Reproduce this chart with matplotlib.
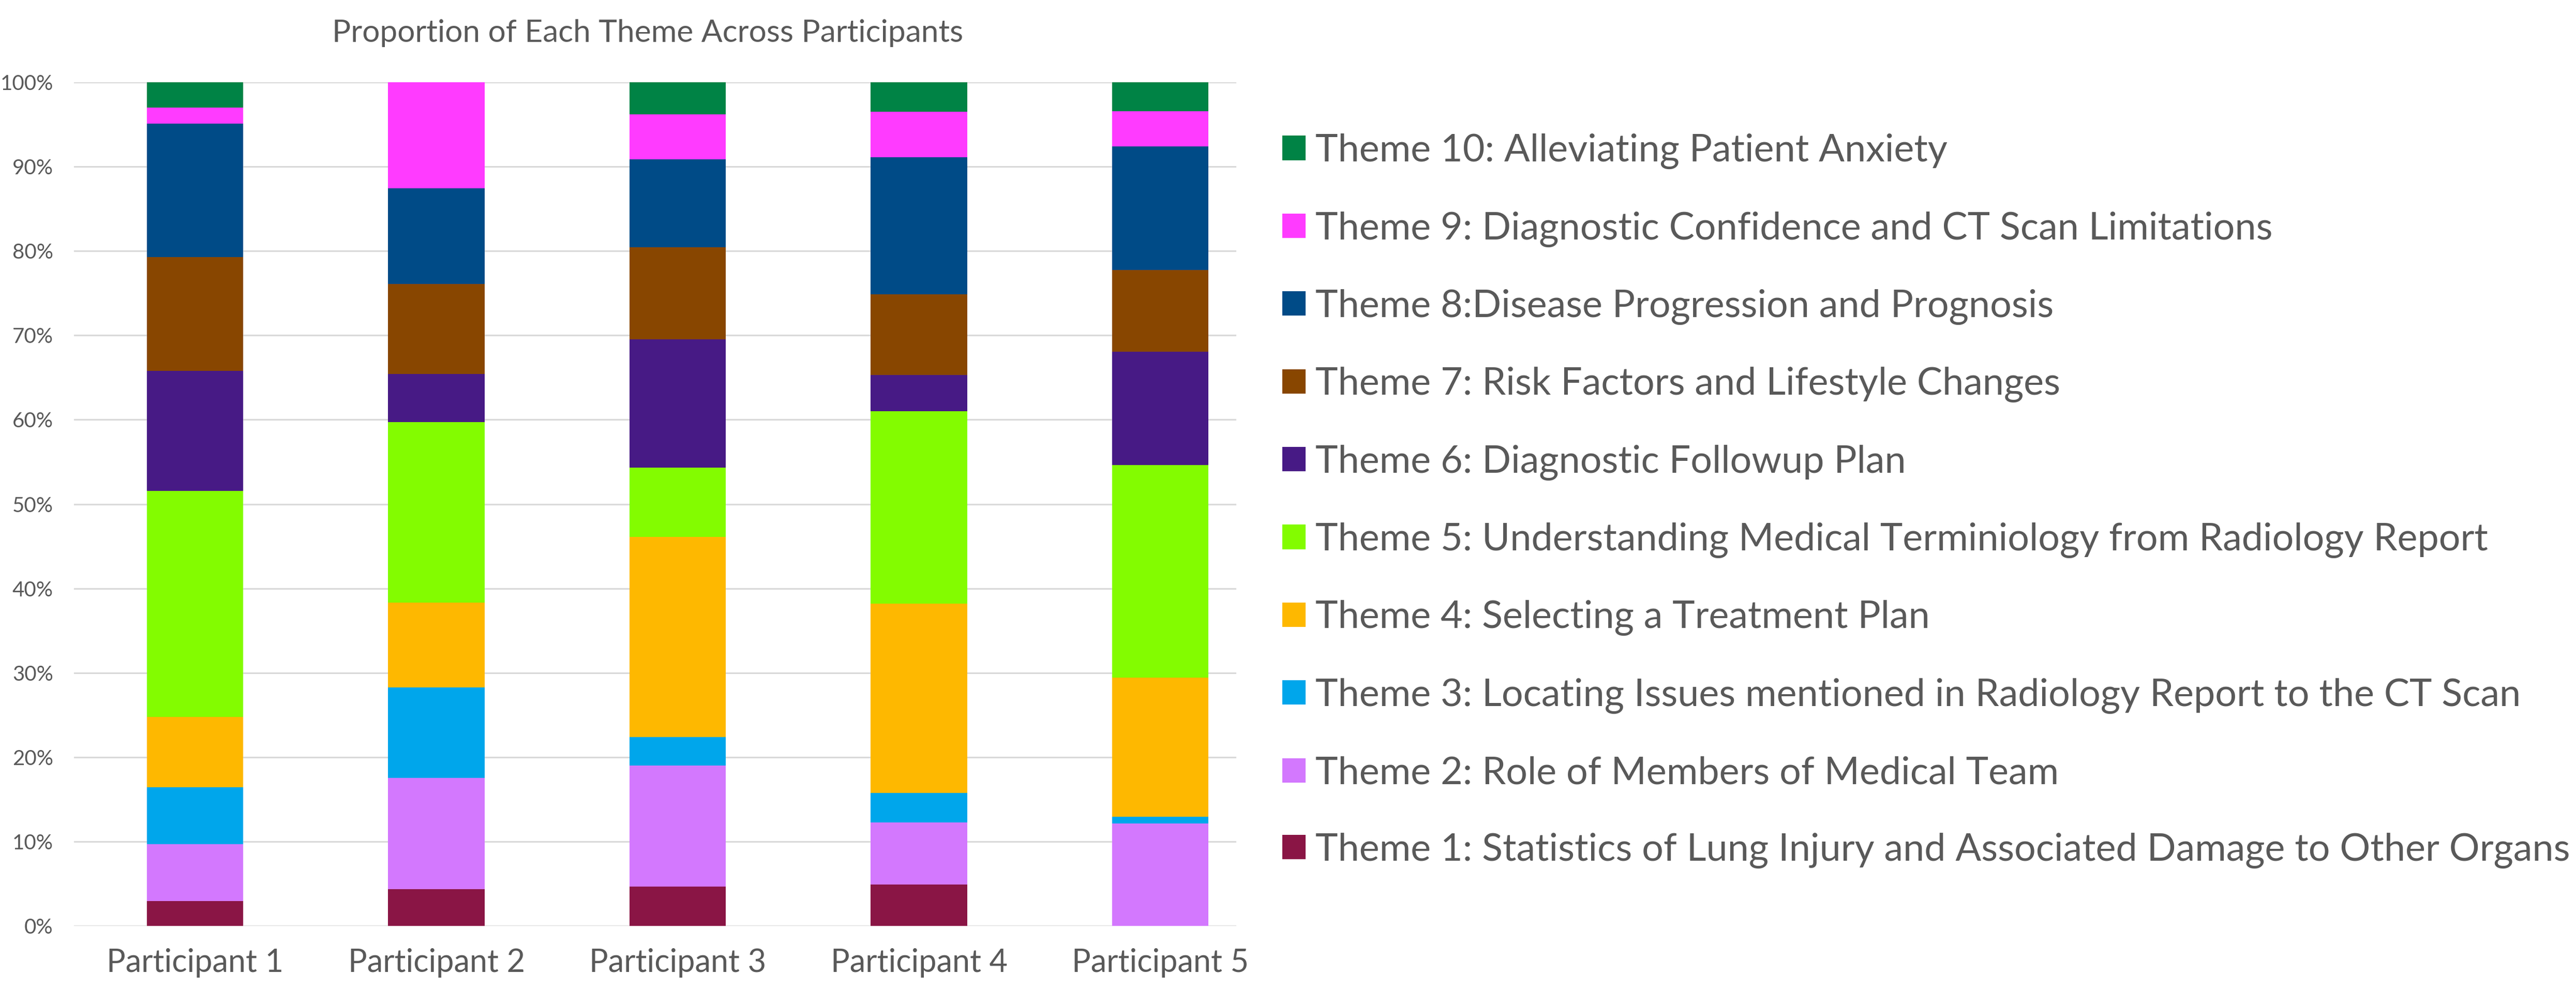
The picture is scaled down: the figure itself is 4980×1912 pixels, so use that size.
import numpy as np
import matplotlib
matplotlib.use('Agg')
import matplotlib.pyplot as plt
from matplotlib.ticker import PercentFormatter

plt.rcParams['font.family'] = ['Lato', 'DejaVu Sans']

participants = ['Participant 1', 'Participant 2', 'Participant 3', 'Participant 4', 'Participant 5']

themes = [
    'Theme 1: Statistics of Lung Injury and Associated Damage to Other Organs',
    'Theme 2: Role of Members of Medical Team',
    'Theme 3: Locating Issues mentioned in Radiology Report to the CT Scan',
    'Theme 4: Selecting a Treatment Plan',
    'Theme 5: Understanding Medical Terminiology from Radiology Report',
    'Theme 6: Diagnostic Followup Plan',
    'Theme 7: Risk Factors and Lifestyle Changes',
    'Theme 8:Disease Progression and Prognosis',
    'Theme 9: Diagnostic Confidence and CT Scan Limitations',
    'Theme 10: Alleviating Patient Anxiety',
]

# proportions (%), one list per theme, P1..P5
theme1 = [2.94, 4.37, 4.67, 4.93, 0.00]
theme2 = [6.77, 13.18, 14.31, 7.34, 12.12]
theme3 = [6.74, 10.73, 3.38, 3.47, 0.83]
theme4 = [8.29, 10.05, 23.76, 22.44, 16.46]
theme5 = [26.81, 21.41, 8.21, 22.83, 25.23]
theme6 = [14.24, 5.66, 15.22, 4.29, 13.43]
theme7 = [13.50, 10.69, 10.90, 9.59, 9.67]
theme8 = [15.82, 11.32, 10.44, 16.21, 14.63]
theme9 = [1.87, 12.59, 5.28, 5.42, 4.22]
theme10 = [3.02, 0.00, 3.83, 3.48, 3.41]

colors = ['#8A1545', '#D378FE', '#00A6EB', '#FEB800', '#83FC00',
          '#471A85', '#884600', '#004B87', '#FF3BFF', '#008345']

values = [theme1, theme2, theme3, theme4, theme5,
          theme6, theme7, theme8, theme9, theme10]

text_col = '#595959'
W, H = 4980, 1912
fig = plt.figure(figsize=(W / 100, H / 100), dpi=100)
ax = fig.add_axes([143 / W, 1 - 1790 / H, (2390 - 143) / W, (1790 - 159) / H])

x = np.arange(len(participants))
bottom = np.zeros(len(participants))
bars = []
for name, vals, col in zip(themes, values, colors):
    b = ax.bar(x, vals, width=0.4, bottom=bottom, color=col, label=name, zorder=3)
    bars.append(b)
    bottom += np.array(vals)

ax.set_xlim(-0.502, 4.315)
ax.set_ylim(0, 100)
ax.set_yticks(np.arange(0, 101, 10))
ax.yaxis.set_major_formatter(PercentFormatter(decimals=0))
ax.set_xticks(x)
ax.set_xticklabels(participants)
ax.grid(axis='y', color='#D9D9D9', linewidth=2.2, zorder=0)
for s in ax.spines.values():
    s.set_visible(False)
ax.tick_params(axis='y', length=0, pad=29, labelsize=29, labelcolor=text_col)
ax.tick_params(axis='x', length=0, pad=31, labelsize=44, labelcolor=text_col)

fig.text(1252 / W, 1 - 81 / H, 'Proportion of Each Theme Across Participants',
         ha='center', va='baseline', fontsize=43.5, color=text_col)

# legend, Theme 10 on top like the original
fs = 53
fs_px = fs * 100 / 72
leg = ax.legend(bars[::-1], themes[::-1], loc='upper left',
                bbox_to_anchor=(2479 / W, 1 - 258 / H), bbox_transform=fig.transFigure,
                frameon=False, fontsize=fs, labelcolor=text_col,
                handlelength=45 / fs_px, handleheight=45 / fs_px,
                handletextpad=19 / fs_px, labelspacing=1.104,
                borderaxespad=0, borderpad=0)

fig.savefig('out.png', dpi=100, facecolor='white')
